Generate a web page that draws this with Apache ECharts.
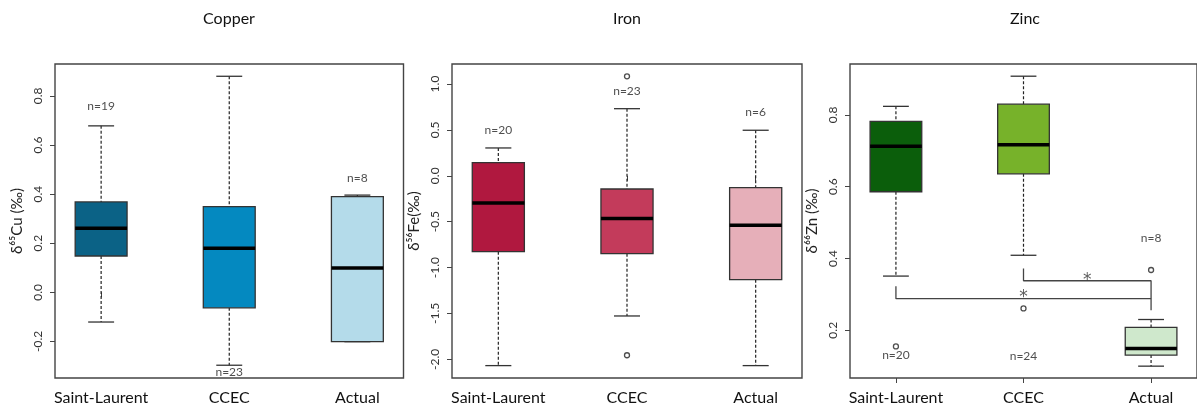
<!DOCTYPE html>
<html><head><meta charset="utf-8">
<script src="https://cdn.jsdelivr.net/npm/echarts@6/dist/echarts.min.js"></script>
<style>html,body{margin:0;padding:0;background:#fff}#c{width:1197px;height:412px}</style>
</head><body><div id="c"></div>
<script>
// ---- data ----
const categories = ['Saint-Laurent', 'CCEC', 'Actual'];
const panelTitles = ['Copper', 'Iron', 'Zinc'];
const axisNames = ['δ⁶⁵Cu (‰)', 'δ⁵⁶Fe(‰)', 'δ⁶⁶Zn (‰)'];
// each box: [lower whisker, Q1, median, Q3, upper whisker]
const copperBoxes = [[-0.121, 0.148, 0.261, 0.368, 0.678], [-0.297, -0.063, 0.179, 0.349, 0.880], [-0.201, -0.201, 0.099, 0.390, 0.396]];
const ironBoxes   = [[-2.069, -0.827, -0.296, 0.143, 0.303], [-1.528, -0.849, -0.467, -0.144, 0.731], [-2.069, -1.132, -0.540, -0.130, 0.496]];
const zincBoxes   = [[0.351, 0.586, 0.713, 0.782, 0.824], [0.409, 0.636, 0.717, 0.830, 0.908], [0.100, 0.131, 0.149, 0.208, 0.230]];
// outliers: [category index (1-based), value]
const copperOutliers = [];
const ironOutliers = [[2, 1.084], [2, -1.956]];
const zincOutliers = [[1, 0.155], [2, 0.261], [3, 0.368]];
// sample-size labels and their value positions
const copperN = ['n=19', 'n=23', 'n=8'];
const copperNy = [0.758, -0.326, 0.465];
const ironN = ['n=20', 'n=23', 'n=6'];
const ironNy = [0.502, 0.927, 0.698];
const zincN = ['n=20', 'n=24', 'n=8'];
const zincNy = [0.130, 0.128, 0.456];
// y ranges and ticks
const copperRange = [-0.349, 0.930];
const ironRange = [-2.204, 1.218];
const zincRange = [0.067, 0.942];
const copperTicks = [-0.2, 0.0, 0.2, 0.4, 0.6, 0.8];
const ironTicks = [-2.0, -1.5, -1.0, -0.5, 0.0, 0.5, 1.0];
const zincTicks = [0.2, 0.4, 0.6, 0.8];
// significance brackets (zinc panel)
const bracketCcecActual = [[2, 0.372], [2, 0.338], [3, 0.338], [3, 0.256]];
const bracketSlActual = [[1, 0.323], [1, 0.288], [3, 0.288]];
const starMarks = [[2.5, 0.353], [2.0, 0.304]];
// colours
const copperColors = ['#0b6286', '#0489c0', '#b4dbea'];
const ironColors = ['#b0183f', '#c33b5b', '#e6afb9'];
const zincColors = ['#0b5e0b', '#77b22a', '#cfe8cc'];

// ---- chart ----
const panels = [
  {boxes: copperBoxes, outliers: copperOutliers, n: copperN, ny: copperNy, range: copperRange, ticks: copperTicks, colors: copperColors},
  {boxes: ironBoxes, outliers: ironOutliers, n: ironN, ny: ironNy, range: ironRange, ticks: ironTicks, colors: ironColors},
  {boxes: zincBoxes, outliers: zincOutliers, n: zincN, ny: zincNy, range: zincRange, ticks: zincTicks, colors: zincColors}
];
const gridLefts = [55, 452, 850];
const gridWidths = [348.5, 350, 350];
const FONT = 'Lato, "Open Sans", sans-serif';
const LINE = '#333';

function renderBox(params, api) {
  const x = api.value(0);
  const pLo = api.coord([x, api.value(1)]);
  const pQ1 = api.coord([x, api.value(2)]);
  const pMed = api.coord([x, api.value(3)]);
  const pQ3 = api.coord([x, api.value(4)]);
  const pHi = api.coord([x, api.value(5)]);
  const bw = api.size([0.405, 0])[0];
  const cw = bw / 2;
  const cx = pLo[0];
  const color = api.visual('color');
  const dash = {stroke: '#222', lineWidth: 1.2, lineDash: [3, 2]};
  const solid = {stroke: LINE, lineWidth: 1.3};
  return {
    type: 'group',
    children: [
      {type: 'line', shape: {x1: cx, y1: pHi[1], x2: cx, y2: pQ3[1]}, style: dash},
      {type: 'line', shape: {x1: cx, y1: pQ1[1], x2: cx, y2: pLo[1]}, style: dash},
      {type: 'line', shape: {x1: cx - cw / 2, y1: pHi[1], x2: cx + cw / 2, y2: pHi[1]}, style: solid},
      {type: 'line', shape: {x1: cx - cw / 2, y1: pLo[1], x2: cx + cw / 2, y2: pLo[1]}, style: solid},
      {type: 'rect', shape: {x: cx - bw / 2, y: pQ3[1], width: bw, height: pQ1[1] - pQ3[1]}, style: {fill: color, stroke: LINE, lineWidth: 1.3}},
      {type: 'line', shape: {x1: cx - bw / 2, y1: pMed[1], x2: cx + bw / 2, y2: pMed[1]}, style: {stroke: '#000', lineWidth: 3.5}}
    ]
  };
}

const grids = [], xAxes = [], yAxes = [], series = [];
panels.forEach((p, i) => {
  grids.push({left: gridLefts[i], top: 64, width: gridWidths[i], height: 314, show: true,
    borderColor: '#444', borderWidth: 1.4, backgroundColor: 'transparent'});
  xAxes.push({gridIndex: i, type: 'value', min: 0.64, max: 3.36,
    axisLine: {show: false}, splitLine: {show: false},
    axisTick: {show: true, length: 5, customValues: [1, 2, 3], lineStyle: {color: '#444'}},
    axisLabel: {customValues: [1, 2, 3], formatter: v => categories[Math.round(v) - 1] || '',
      fontSize: 16, margin: 12, color: '#111', fontFamily: FONT}});
  yAxes.push({gridIndex: i, type: 'value', min: p.range[0], max: p.range[1],
    axisLine: {show: false}, splitLine: {show: false},
    axisTick: {show: true, length: 5, customValues: p.ticks, lineStyle: {color: '#444'}},
    axisLabel: {customValues: p.ticks, rotate: 90, margin: 11, formatter: v => v.toFixed(1),
      fontSize: 12, color: '#333', fontFamily: FONT},
    name: axisNames[i], nameLocation: 'middle', nameRotate: 90, nameGap: 30,
    nameTextStyle: {fontSize: 15, color: '#222', fontFamily: FONT}});
  series.push({type: 'custom', xAxisIndex: i, yAxisIndex: i, renderItem: renderBox, z: 3,
    data: p.boxes.map((b, k) => ({value: [k + 1].concat(b), itemStyle: {color: p.colors[k]}}))});
  series.push({type: 'scatter', xAxisIndex: i, yAxisIndex: i, symbol: 'circle', symbolSize: 5, z: 4,
    itemStyle: {color: '#fff', borderColor: '#222', borderWidth: 1.3},
    data: p.outliers});
  series.push({type: 'scatter', xAxisIndex: i, yAxisIndex: i, symbolSize: 0, z: 5,
    label: {show: true, position: 'inside', formatter: q => q.name, fontSize: 12, color: '#222', fontFamily: FONT},
    data: p.n.map((t, k) => ({name: t, value: [k + 1, p.ny[k]]}))});
});
series.push({type: 'line', xAxisIndex: 2, yAxisIndex: 2, symbol: 'none', z: 2,
  lineStyle: {color: '#444', width: 1.3}, data: bracketCcecActual});
series.push({type: 'line', xAxisIndex: 2, yAxisIndex: 2, symbol: 'none', z: 2,
  lineStyle: {color: '#444', width: 1.3}, data: bracketSlActual});
series.push({type: 'scatter', xAxisIndex: 2, yAxisIndex: 2, symbolSize: 0, z: 5,
  label: {show: true, position: 'inside', formatter: '*', fontSize: 17, color: '#333', offset: [0, 5], fontFamily: '"DejaVu Sans", sans-serif'},
  data: starMarks});

const titleX = [229, 627, 1025];
const chart = echarts.init(document.getElementById('c'));
chart.setOption({
  animation: false,
  backgroundColor: '#fff',
  grid: grids, xAxis: xAxes, yAxis: yAxes, series: series,
  graphic: panelTitles.map((t, i) => ({type: 'text', x: titleX[i], y: 19,
    style: {text: t, fontSize: 16, fill: '#111', fontFamily: FONT, textAlign: 'center', textVerticalAlign: 'middle'}}))
});
</script></body></html>
